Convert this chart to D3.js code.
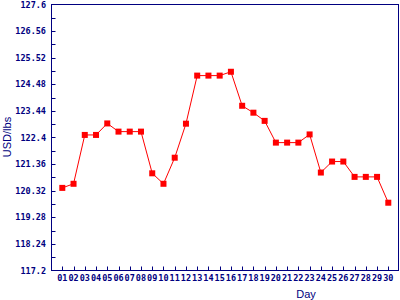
<!DOCTYPE html>
<html>
<head>
<meta charset="utf-8">
<script src="https://cdn.jsdelivr.net/npm/d3@7"></script>
<style>
  body { margin: 0; background: #fff; }
  svg { display: block; }
  .tick-label { font-family: 'DejaVu Sans Mono', monospace; font-weight: bold; font-size: 8.5px; fill: #000080; }
  .axis-title { font-family: 'Liberation Sans', Arial, sans-serif; font-size: 11px; fill: #000080; }
</style>
</head>
<body>
<svg id="chart" width="400" height="300"></svg>
<script>
// days on the x axis
var days = ['01','02','03','04','05','06','07','08','09','10','11','12','13','14','15',
            '16','17','18','19','20','21','22','23','24','25','26','27','28','29','30'];
// price per day, USD/lbs
var prices = [120.43, 120.59, 122.50, 122.50, 122.95, 122.63, 122.63, 122.63, 121.00, 120.59,
              121.61, 122.94, 124.82, 124.82, 124.82, 124.97, 123.64, 123.37, 123.05, 122.20,
              122.20, 122.20, 122.52, 121.03, 121.46, 121.46, 120.86, 120.86, 120.86, 119.85];
// y axis tick labels
var yTicks = [117.2, 118.24, 119.28, 120.32, 121.36, 122.4, 123.44, 124.48, 125.52, 126.56, 127.6];

var navy = '#000080';
var red = '#ff0000';

var svg = d3.select('#chart');
var plot = { left: 51.5, right: 398.5, top: 4.5, bottom: 270.5 };

var x = d3.scaleLinear().domain([1, 30]).range([62.3, 388.3]);
var y = d3.scaleLinear().domain([117.2, 127.6]).range([plot.bottom, plot.top]);

var data = days.map(function(d, i) {
  return { day: i + 1, label: d, value: prices[i] };
});

// frame
svg.append('rect')
  .attr('x', plot.left)
  .attr('y', plot.top)
  .attr('width', plot.right - plot.left)
  .attr('height', plot.bottom - plot.top)
  .attr('fill', 'none')
  .attr('stroke', navy)
  .attr('stroke-width', 1);

// y ticks: major with labels, minor in between
var minor = [];
for (var i = 0; i < yTicks.length - 1; i++) {
  minor.push((yTicks[i] + yTicks[i + 1]) / 2);
}
svg.append('g').selectAll('line')
  .data(yTicks.slice(1, -1).concat(minor))
  .enter().append('line')
  .attr('x1', plot.left)
  .attr('x2', plot.left + 4)
  .attr('y1', function(d) { return Math.round(y(d)) + 0.5; })
  .attr('y2', function(d) { return Math.round(y(d)) + 0.5; })
  .attr('stroke', navy);

svg.append('g').selectAll('text')
  .data(yTicks)
  .enter().append('text')
  .attr('class', 'tick-label')
  .attr('x', 46)
  .attr('y', function(d) { return y(d) + 3; })
  .attr('text-anchor', 'end')
  .text(function(d) { return d; });

// x ticks
svg.append('g').selectAll('line')
  .data(data)
  .enter().append('line')
  .attr('x1', function(d) { return Math.round(x(d.day)) + 0.5; })
  .attr('x2', function(d) { return Math.round(x(d.day)) + 0.5; })
  .attr('y1', plot.bottom)
  .attr('y2', plot.bottom - 4)
  .attr('stroke', navy);

svg.append('g').selectAll('text')
  .data(data)
  .enter().append('text')
  .attr('class', 'tick-label')
  .attr('x', function(d) { return x(d.day); })
  .attr('y', 281)
  .attr('text-anchor', 'middle')
  .text(function(d) { return d.label; });

// axis titles
svg.append('text')
  .attr('class', 'axis-title')
  .attr('x', 306)
  .attr('y', 298)
  .attr('text-anchor', 'middle')
  .text('Day');

svg.append('text')
  .attr('class', 'axis-title')
  .attr('transform', 'translate(11, 137) rotate(-90)')
  .attr('text-anchor', 'middle')
  .text('USD/lbs');

// series
var line = d3.line()
  .x(function(d) { return x(d.day); })
  .y(function(d) { return y(d.value); });

svg.append('path')
  .datum(data)
  .attr('d', line)
  .attr('fill', 'none')
  .attr('stroke', red)
  .attr('stroke-width', 1);

svg.append('g').selectAll('rect')
  .data(data)
  .enter().append('rect')
  .attr('x', function(d) { return x(d.day) - 3; })
  .attr('y', function(d) { return y(d.value) - 3; })
  .attr('width', 6)
  .attr('height', 6)
  .attr('fill', red);
</script>
</body>
</html>
